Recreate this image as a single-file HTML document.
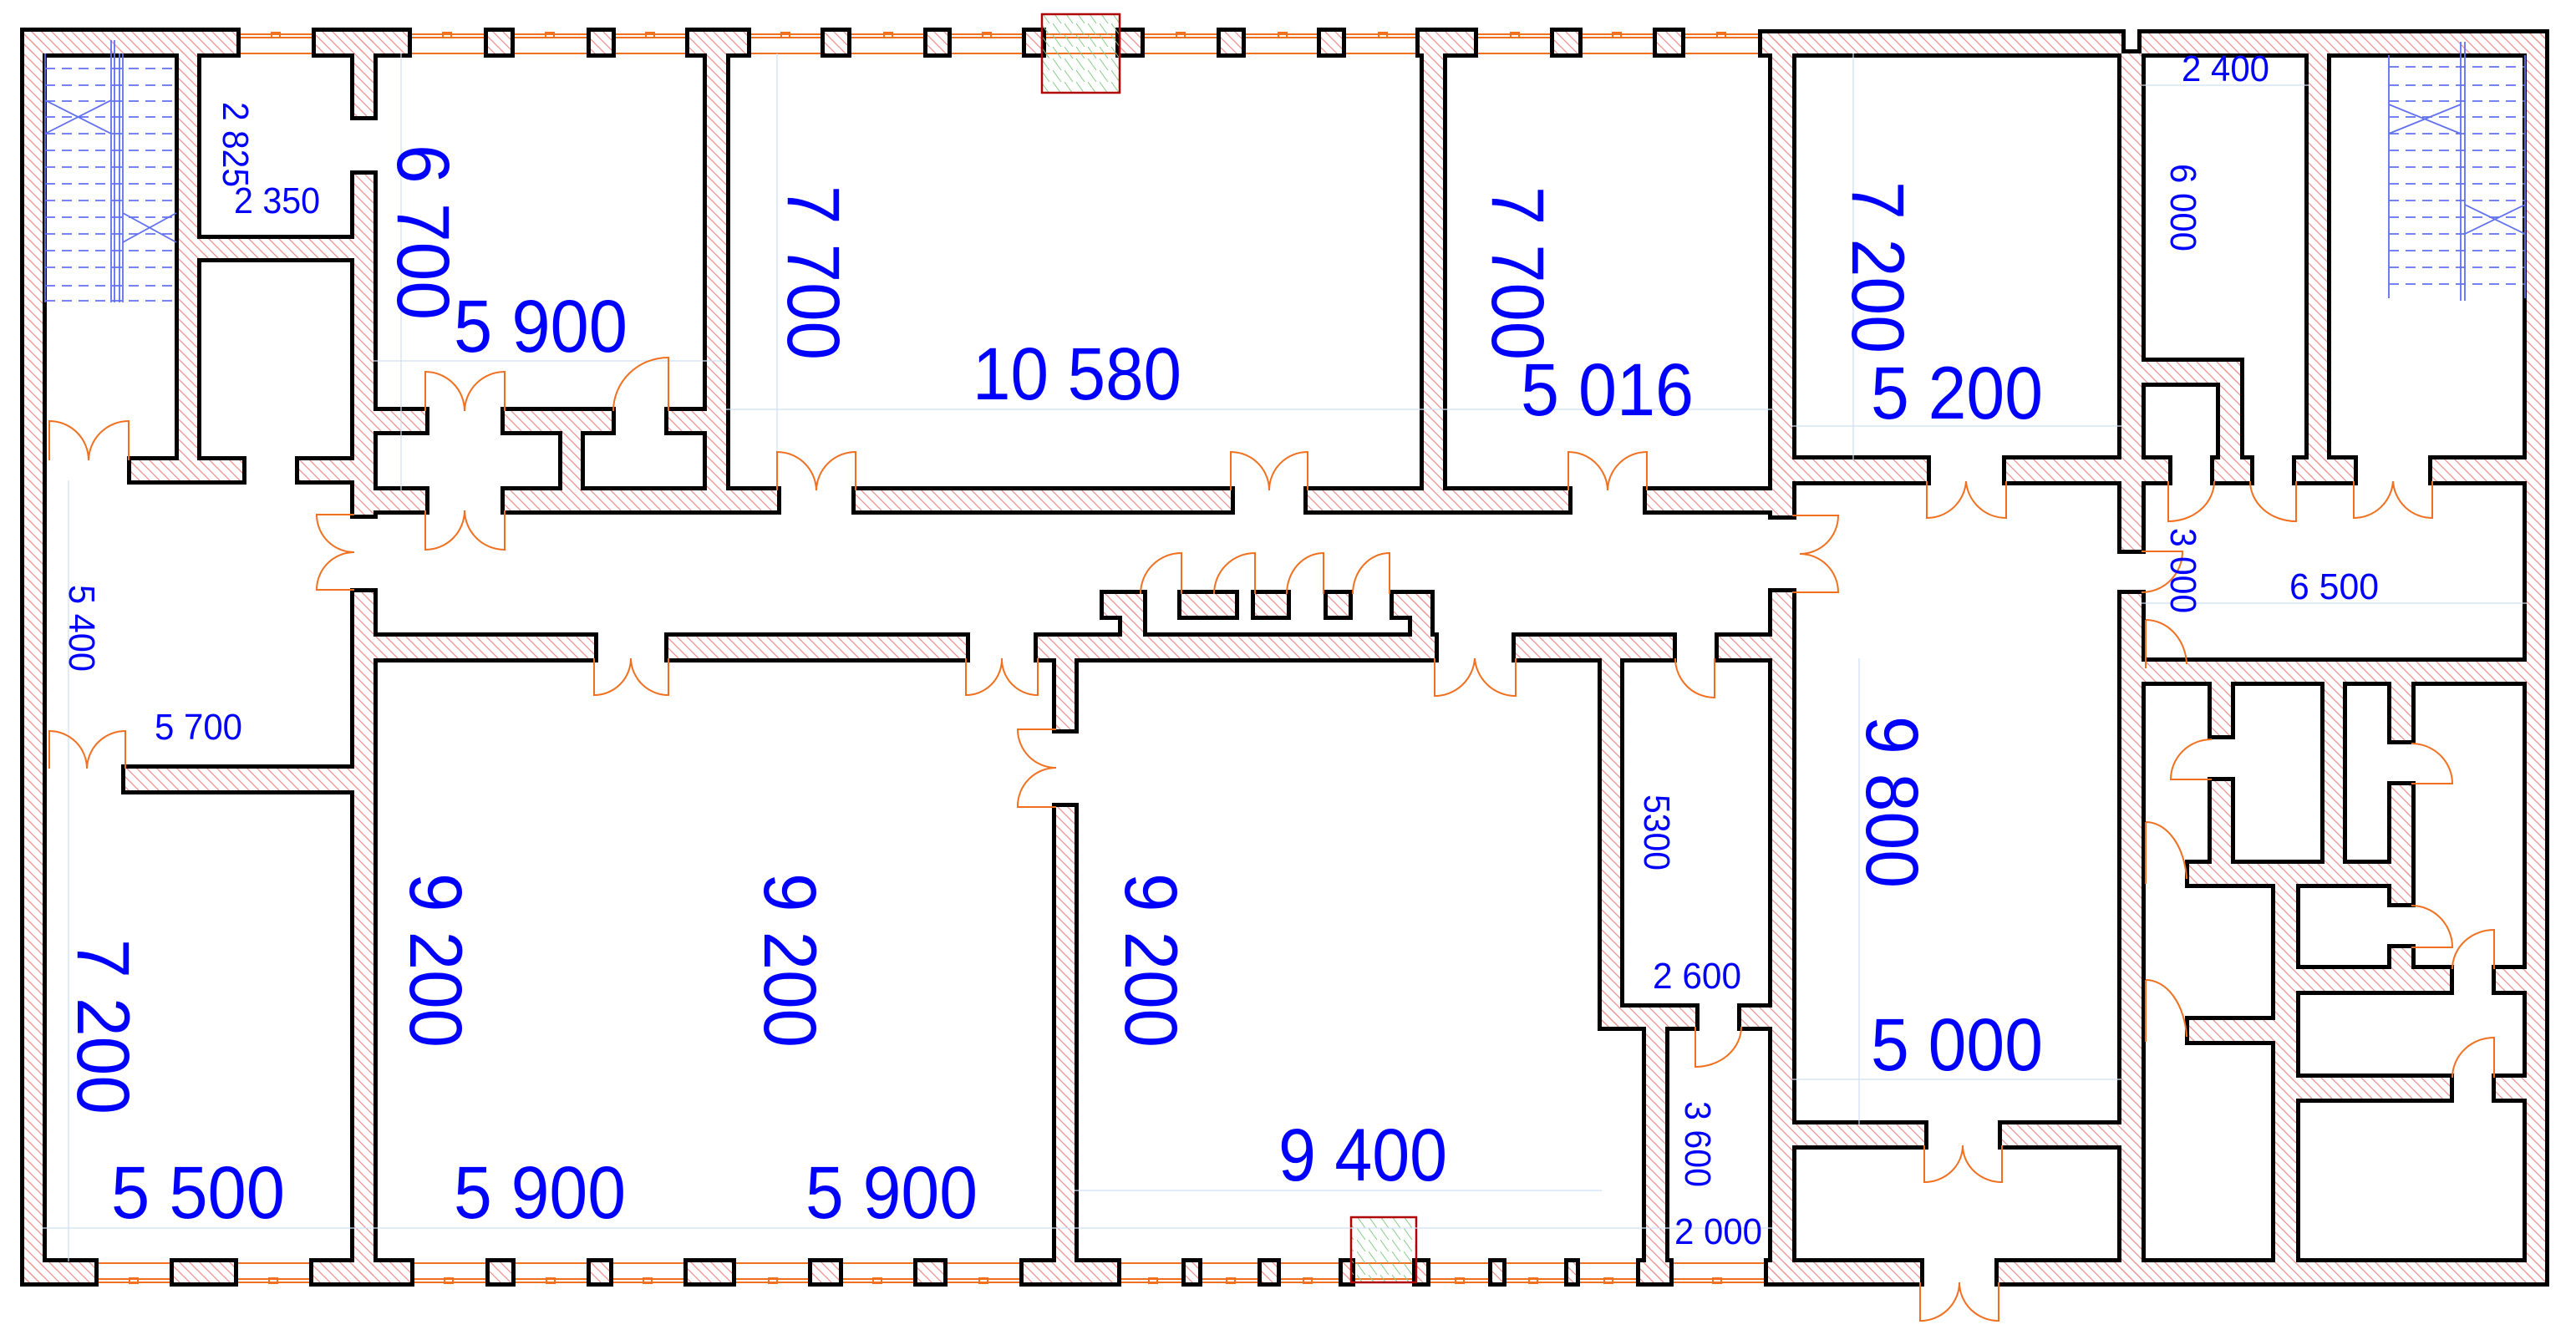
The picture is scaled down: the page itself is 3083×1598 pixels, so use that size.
<!DOCTYPE html>
<html><head><meta charset="utf-8"><style>
html,body{margin:0;padding:0;background:#fff}
svg{display:block}
.t{font-family:"Liberation Sans",sans-serif;fill:#0000ff}
</style></head><body>
<svg width="3083" height="1598" viewBox="0 0 3083 1598" xmlns="http://www.w3.org/2000/svg" xmlns:xlink="http://www.w3.org/1999/xlink">
<defs>
<pattern id="h" patternUnits="userSpaceOnUse" width="12" height="12">
<path d="M-3,-3 L15,15 M-3,9 L3,15 M9,-3 L15,3" stroke="#eb9090" stroke-width="1.3"/>
</pattern>
<pattern id="g" patternUnits="userSpaceOnUse" width="14" height="14">
<path d="M0,0 L10,14" stroke="#8c8" stroke-width="1"/>
</pattern>
<g id="W">
<rect x="29" y="38" width="22" height="1497"/>
<rect x="29" y="38" width="254" height="26"/>
<rect x="2109" y="40" width="430" height="24"/>
<rect x="2563" y="40" width="483" height="24"/>
<rect x="3024" y="40" width="22" height="1495"/>
<rect x="29" y="1511" width="84" height="24"/>
<rect x="2116" y="1511" width="182" height="24"/>
<rect x="2392" y="1511" width="654" height="24"/>
<rect x="378" y="38" width="110" height="26"/><rect x="424" y="38" width="23" height="101"/>
<rect x="584" y="38" width="27" height="26"/><rect x="707" y="38" width="25" height="26"/>
<rect x="825" y="38" width="69" height="26"/>
<rect x="987" y="38" width="27" height="26"/><rect x="1110" y="38" width="24" height="26"/>
<rect x="1228" y="38" width="19" height="26"/><rect x="1340" y="38" width="25" height="26"/>
<rect x="1461" y="38" width="25" height="26"/><rect x="1581" y="38" width="25" height="26"/>
<rect x="1699" y="38" width="65" height="26"/>
<rect x="1860" y="38" width="29" height="26"/><rect x="1983" y="38" width="29" height="26"/>
<rect x="208" y="1511" width="72" height="24"/><rect x="375" y="1511" width="116" height="24"/>
<rect x="586" y="1511" width="26" height="24"/><rect x="707" y="1511" width="22" height="24"/>
<rect x="823" y="1511" width="53" height="24"/><rect x="972" y="1511" width="32" height="24"/>
<rect x="1098" y="1511" width="31" height="24"/><rect x="1225" y="1511" width="112" height="24"/>
<rect x="1419" y="1511" width="15" height="24"/><rect x="1510" y="1511" width="18" height="24"/>
<rect x="1607" y="1511" width="10" height="24"/><rect x="1695" y="1511" width="12" height="24"/>
<rect x="1786" y="1511" width="12" height="24"/><rect x="1877" y="1511" width="9" height="24"/>
<rect x="1963" y="1511" width="35" height="24"/>
<rect x="214" y="61" width="22" height="514"/>
<rect x="157" y="551" width="133" height="24"/>
<rect x="358" y="551" width="66" height="24"/>
<rect x="236" y="286" width="188" height="23"/>
<rect x="424" y="209" width="23" height="407"/>
<rect x="424" y="709" width="23" height="826"/>
<rect x="447" y="492" width="62" height="24"/><rect x="604" y="492" width="128" height="24"/><rect x="800" y="492" width="46" height="24"/>
<rect x="673" y="516" width="22" height="71"/>
<rect x="447" y="587" width="62" height="24"/><rect x="604" y="587" width="326" height="24"/>
<rect x="846" y="64" width="23" height="523"/>
<rect x="150" y="920" width="274" height="26"/>
<rect x="1024" y="587" width="449" height="24"/><rect x="1565" y="587" width="312" height="24"/><rect x="1971" y="587" width="150" height="24"/>
<rect x="1704" y="64" width="23" height="523"/>
<rect x="2121" y="41" width="24" height="576"/>
<rect x="2121" y="550" width="185" height="26"/><rect x="2401" y="550" width="138" height="26"/>
<rect x="2563" y="550" width="32" height="26"/><rect x="2650" y="550" width="43" height="26"/>
<rect x="2748" y="550" width="69" height="26"/><rect x="2911" y="550" width="113" height="26"/>
<rect x="2539" y="64" width="24" height="594"/><rect x="2539" y="711" width="24" height="824"/>
<rect x="2763" y="64" width="22" height="507"/>
<rect x="2563" y="433" width="118" height="25"/><rect x="2657" y="433" width="24" height="118"/>
<rect x="447" y="762" width="264" height="26"/><rect x="800" y="762" width="356" height="26"/>
<rect x="1242" y="762" width="475" height="26"/>
<rect x="1321" y="711" width="42" height="26"/><rect x="1343" y="711" width="25" height="51"/>
<rect x="1414" y="711" width="32" height="26"/><rect x="1446" y="711" width="32" height="26"/>
<rect x="1502" y="711" width="38" height="26"/><rect x="1589" y="711" width="25" height="26"/>
<rect x="1668" y="711" width="44" height="26"/><rect x="1690" y="711" width="22" height="51"/>
<rect x="1814" y="762" width="188" height="26"/><rect x="2057" y="762" width="88" height="26"/>
<rect x="1264" y="788" width="22" height="85"/><rect x="1264" y="966" width="22" height="569"/>
<rect x="1917" y="788" width="22" height="441"/>
<rect x="1917" y="1206" width="112" height="23"/><rect x="2084" y="1206" width="37" height="23"/>
<rect x="1970" y="1229" width="23" height="306"/>
<rect x="2121" y="709" width="24" height="826"/>
<rect x="2145" y="1346" width="158" height="25"/><rect x="2396" y="1346" width="143" height="25"/>
<rect x="2563" y="792" width="461" height="24"/>
<rect x="2647" y="816" width="23" height="64"/><rect x="2647" y="935" width="23" height="99"/>
<rect x="2782" y="816" width="22" height="218"/>
<rect x="2862" y="816" width="24" height="70"/><rect x="2862" y="940" width="24" height="141"/>
<rect x="2620" y="1034" width="266" height="24"/>
<rect x="2723" y="1058" width="25" height="453"/>
<rect x="2620" y="1221" width="103" height="25"/>
<rect x="2862" y="1135" width="24" height="25"/>
<rect x="2748" y="1160" width="184" height="26"/><rect x="2987" y="1160" width="37" height="26"/>
<rect x="2748" y="1290" width="184" height="25"/><rect x="2987" y="1290" width="37" height="25"/>
</g>
</defs>
<rect width="3083" height="1598" fill="#fff"/>

<!-- window bands -->
<g stroke="#f07020" stroke-width="2" fill="none">
<line x1="283" y1="41" x2="2109" y2="41"/><line x1="283" y1="45" x2="2109" y2="45"/><line x1="283" y1="64" x2="2109" y2="64"/>
<line x1="113" y1="1512" x2="2116" y2="1512"/><line x1="113" y1="1531" x2="2116" y2="1531"/><line x1="113" y1="1535" x2="2116" y2="1535"/>
</g>
<g fill="none" stroke="#f07020" stroke-width="2">
<rect x="325" y="39" width="10" height="6"/><rect x="530" y="39" width="10" height="6"/><rect x="653" y="39" width="10" height="6"/><rect x="773" y="39" width="10" height="6"/><rect x="935" y="39" width="10" height="6"/><rect x="1058" y="39" width="10" height="6"/><rect x="1176" y="39" width="10" height="6"/><rect x="1408" y="39" width="10" height="6"/><rect x="1530" y="39" width="10" height="6"/><rect x="1650" y="39" width="10" height="6"/><rect x="1808" y="39" width="10" height="6"/><rect x="1930" y="39" width="10" height="6"/><rect x="2055" y="39" width="10" height="6"/>
<rect x="155" y="1530" width="10" height="6"/><rect x="322" y="1530" width="10" height="6"/><rect x="532" y="1530" width="10" height="6"/><rect x="654" y="1530" width="10" height="6"/><rect x="770" y="1530" width="10" height="6"/><rect x="920" y="1530" width="10" height="6"/><rect x="1045" y="1530" width="10" height="6"/><rect x="1172" y="1530" width="10" height="6"/><rect x="1375" y="1530" width="10" height="6"/><rect x="1468" y="1530" width="10" height="6"/><rect x="1560" y="1530" width="10" height="6"/><rect x="1742" y="1530" width="10" height="6"/><rect x="1830" y="1530" width="10" height="6"/><rect x="1920" y="1530" width="10" height="6"/><rect x="2050" y="1530" width="10" height="6"/>
</g>

<!-- walls: merged outline -->
<use xlink:href="#W" href="#W" fill="none" stroke="#000" stroke-width="10"/>
<use xlink:href="#W" href="#W" fill="#fff" stroke="none"/>
<use xlink:href="#W" href="#W" fill="url(#h)" stroke="none"/>

<!-- red boxes -->
<rect x="1247" y="17" width="93" height="94" fill="url(#g)" stroke="#b00000" stroke-width="2.5"/>
<rect x="1617" y="1457" width="78" height="78" fill="url(#g)" stroke="#b00000" stroke-width="2.5"/>

<!-- stairs -->
<g stroke="#6070f0" stroke-width="1.8" fill="none">
<line x1="54" y1="64" x2="54" y2="362"/><line x1="133" y1="48" x2="133" y2="362"/><line x1="137" y1="48" x2="137" y2="362"/><line x1="143" y1="64" x2="143" y2="362"/><line x1="147" y1="64" x2="147" y2="362"/>
<path d="M54 82H211M54 102H211M54 121H211M54 140H211M54 160H211M54 180H211M54 200H211M54 220H211M54 240H211M54 260H211M54 280H211M54 300H211M54 320H211M54 342H211M54 360H211" stroke-dasharray="12 8"/>
<path d="M54 160L133 120M54 120L133 160M147 290L211 255M147 255L211 290"/>
<line x1="2859" y1="66" x2="2859" y2="357"/><line x1="2945" y1="50" x2="2945" y2="360"/><line x1="2950" y1="50" x2="2950" y2="360"/><line x1="3022" y1="66" x2="3022" y2="357"/>
<path d="M2859 80H3022M2859 102H3022M2859 121H3022M2859 140H3022M2859 160H3022M2859 180H3022M2859 200H3022M2859 220H3022M2859 240H3022M2859 260H3022M2859 280H3022M2859 300H3022M2859 320H3022M2859 340H3022" stroke-dasharray="12 8"/>
<path d="M2859 125L2945 160M2859 160L2945 125M2950 245L3022 280M2950 280L3022 245"/>
</g>

<!-- faint dimension lines -->
<g stroke="#cfe0f5" stroke-width="1.2">
<line x1="447" y1="432" x2="869" y2="432"/><line x1="869" y1="490" x2="2121" y2="490"/>
<line x1="2145" y1="510" x2="2539" y2="510"/><line x1="2563" y1="102" x2="2763" y2="102"/>
<line x1="2563" y1="722" x2="3024" y2="722"/><line x1="51" y1="1470" x2="2121" y2="1470"/>
<line x1="2145" y1="1292" x2="2539" y2="1292"/><line x1="1286" y1="1425" x2="1917" y2="1425"/>
<line x1="82" y1="575" x2="82" y2="1510"/><line x1="480" y1="64" x2="480" y2="587"/><line x1="930" y1="64" x2="930" y2="587"/>
<line x1="2218" y1="64" x2="2218" y2="550"/><line x1="2225" y1="788" x2="2225" y2="1346"/>
</g>

<!-- doors -->
<g stroke="#f07020" stroke-width="2" fill="none">
<path d="M59 551V504A47 47 0 0 1 106 551M154 551V504A48 48 0 0 0 106 551"/>
<path d="M59 920V875A45 45 0 0 1 104 920M150 920V875A46 46 0 0 0 104 920"/>
<path d="M424 616H379A45 45 0 0 0 424 661M424 706H379A45 45 0 0 1 424 661"/>
<path d="M509 492V445A47 47 0 0 1 556 492M604 492V445A48 48 0 0 0 556 492"/>
<path d="M509 611V658A47 47 0 0 0 556 611M604 611V658A48 48 0 0 1 556 611"/>
<path d="M800 492V428A66 64 0 0 0 734 492"/>
<path d="M930 587V541A47 47 0 0 1 977 587M1024 587V541A47 47 0 0 0 977 587"/>
<path d="M1473 587V541A46 46 0 0 1 1519 587M1565 587V541A46 46 0 0 0 1519 587"/>
<path d="M1877 587V541A47 47 0 0 1 1924 587M1971 587V541A47 47 0 0 0 1924 587"/>
<path d="M2306 576V620A47 47 0 0 0 2353 576M2401 576V620A48 48 0 0 1 2353 576"/>
<path d="M2145 617H2200A46 46 0 0 1 2154 663M2145 709H2200A46 46 0 0 0 2154 663"/>
<path d="M2595 576V624A55 48 0 0 0 2650 576"/>
<path d="M2748 576V624A55 48 0 0 1 2693 576"/>
<path d="M2817 576V620A47 47 0 0 0 2864 576M2911 576V620A47 47 0 0 1 2864 576"/>
<path d="M2563 660H2612A49 49 0 0 1 2563 709"/>
<path d="M711 788V832A44 44 0 0 0 755 788M800 788V832A45 45 0 0 1 755 788"/>
<path d="M1156 788V832A43 43 0 0 0 1199 788M1242 788V832A43 43 0 0 1 1199 788"/>
<path d="M1717 788V833A48 48 0 0 0 1765 788M1814 788V833A49 49 0 0 1 1765 788"/>
<path d="M2052 788V835A47 47 0 0 1 2005 788"/>
<path d="M1414 711V662A49 49 0 0 0 1365 711M1502 711V662A49 49 0 0 0 1453 711M1584 711V662A44 49 0 0 0 1540 711M1663 711V662A44 49 0 0 0 1619 711"/>
<path d="M1264 873H1218A46 46 0 0 0 1264 919M1264 966H1218A46 46 0 0 1 1264 919"/>
<path d="M2029 1229V1277A55 48 0 0 0 2084 1229"/>
<path d="M2303 1371V1415A46 44 0 0 0 2349 1371M2396 1371V1415A47 44 0 0 1 2349 1371"/>
<path d="M2298 1535V1581A47 46 0 0 0 2345 1535M2392 1535V1581A47 46 0 0 1 2345 1535"/>
<path d="M2647 933H2598A49 48 0 0 1 2647 885"/>
<path d="M2886 938H2935A49 48 0 0 0 2886 890"/>
<path d="M2568 984V1058M2568 984A49 74 0 0 1 2617 1052"/>
<path d="M2568 1173V1247M2568 1173A49 74 0 0 1 2617 1241"/>
<path d="M2568 742V800M2568 742A49 55 0 0 1 2617 795"/>
<path d="M2886 1134H2935A49 50 0 0 0 2886 1084"/>
<path d="M2985 1160V1113A50 47 0 0 0 2935 1160"/>
<path d="M2985 1290V1242A50 48 0 0 0 2935 1290"/>
</g>

<!-- labels -->
<g class="t" font-size="89">
<text x="543" y="421" textLength="208" lengthAdjust="spacingAndGlyphs">5 900</text>
<text x="1164" y="478" textLength="250" lengthAdjust="spacingAndGlyphs">10 580</text>
<text x="1820" y="497" textLength="207" lengthAdjust="spacingAndGlyphs">5 016</text>
<text x="2239" y="501" textLength="206" lengthAdjust="spacingAndGlyphs">5 200</text>
<text x="133" y="1458" textLength="208" lengthAdjust="spacingAndGlyphs">5 500</text>
<text x="543" y="1458" textLength="206" lengthAdjust="spacingAndGlyphs">5 900</text>
<text x="964" y="1458" textLength="206" lengthAdjust="spacingAndGlyphs">5 900</text>
<text x="1530" y="1413" textLength="202" lengthAdjust="spacingAndGlyphs">9 400</text>
<text x="2239" y="1281" textLength="206" lengthAdjust="spacingAndGlyphs">5 000</text>
<text transform="translate(476,173) rotate(90)" textLength="210" lengthAdjust="spacingAndGlyphs">6 700</text>
<text transform="translate(943,222) rotate(90)" textLength="209" lengthAdjust="spacingAndGlyphs">7 700</text>
<text transform="translate(1786,223) rotate(90)" textLength="208" lengthAdjust="spacingAndGlyphs">7 700</text>
<text transform="translate(2217,217) rotate(90)" textLength="206" lengthAdjust="spacingAndGlyphs">7 200</text>
<text transform="translate(93,1124) rotate(90)" textLength="210" lengthAdjust="spacingAndGlyphs">7 200</text>
<text transform="translate(491,1045) rotate(90)" textLength="209" lengthAdjust="spacingAndGlyphs">9 200</text>
<text transform="translate(915,1045) rotate(90)" textLength="209" lengthAdjust="spacingAndGlyphs">9 200</text>
<text transform="translate(1347,1045) rotate(90)" textLength="209" lengthAdjust="spacingAndGlyphs">9 200</text>
<text transform="translate(2234,857) rotate(90)" textLength="206" lengthAdjust="spacingAndGlyphs">9 800</text>
</g>
<g class="t" font-size="44">
<text transform="translate(267,122) rotate(90)" textLength="102" lengthAdjust="spacingAndGlyphs">2 825</text>
<text x="280" y="255" textLength="103" lengthAdjust="spacingAndGlyphs">2 350</text>
<text transform="translate(83,700) rotate(90)" textLength="104" lengthAdjust="spacingAndGlyphs">5 400</text>
<text x="185" y="885" textLength="105" lengthAdjust="spacingAndGlyphs">5 700</text>
<text x="2611" y="97" textLength="105" lengthAdjust="spacingAndGlyphs">2 400</text>
<text transform="translate(2598,196) rotate(90)" textLength="105" lengthAdjust="spacingAndGlyphs">6 000</text>
<text transform="translate(2598,632) rotate(90)" textLength="102" lengthAdjust="spacingAndGlyphs">3 000</text>
<text x="2740" y="717" textLength="107" lengthAdjust="spacingAndGlyphs">6 500</text>
<text transform="translate(1968,951) rotate(90)" textLength="91" lengthAdjust="spacingAndGlyphs">5300</text>
<text x="1978" y="1183" textLength="106" lengthAdjust="spacingAndGlyphs">2 600</text>
<text transform="translate(2017,1318) rotate(90)" textLength="103" lengthAdjust="spacingAndGlyphs">3 600</text>
<text x="2004" y="1489" textLength="105" lengthAdjust="spacingAndGlyphs">2 000</text>
</g>
</svg>
</body></html>
